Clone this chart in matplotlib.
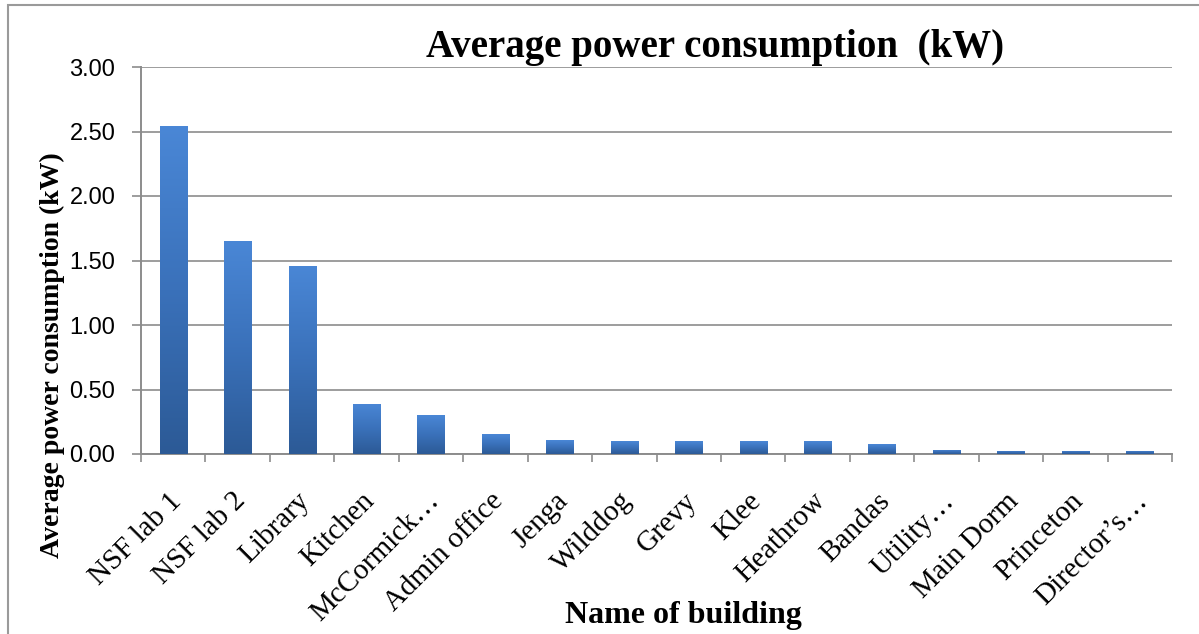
import numpy as np
import matplotlib
matplotlib.use("Agg")
import matplotlib.pyplot as plt
import matplotlib.transforms as mtransforms
from matplotlib.patches import Rectangle

buildings = ["NSF lab 1", "NSF lab 2", "Library", "Kitchen", "McCormick\u2026",
             "Admin office", "Jenga", "Wilddog", "Grevy", "Klee", "Heathrow",
             "Bandas", "Utility\u2026", "Main Dorm", "Princeton", "Director\u2019s\u2026"]
power_kw = [2.54, 1.65, 1.46, 0.39, 0.30, 0.155, 0.105, 0.097, 0.097, 0.097,
            0.097, 0.074, 0.034, 0.027, 0.027, 0.027]
yticks = [0.0, 0.5, 1.0, 1.5, 2.0, 2.5, 3.0]


def main():
    fig = plt.figure(figsize=(11.99, 6.34), dpi=100)
    ax = fig.add_axes([141 / 1199, 1 - 454 / 634, 1031 / 1199, 387 / 634])

    x = np.arange(len(buildings))
    bars = ax.bar(x, power_kw, width=0.42, color="#3a6fb5", zorder=3)

    # vertical gradient on each bar, lighter at top like the Excel style
    grad = np.linspace(0, 1, 256).reshape(-1, 1)
    cmap = matplotlib.colors.LinearSegmentedColormap.from_list(
        "bluegrad", ["#2c5a96", "#3a71ba", "#4a87d6"])
    for b in bars:
        bx, by = b.get_x(), b.get_y()
        w, h = b.get_width(), b.get_height()
        im = ax.imshow(grad, extent=[bx, bx + w, by, by + h], origin="lower",
                       cmap=cmap, aspect="auto", zorder=3)
        im.set_clip_path(b)

    ax.set_xlim(-0.5, len(buildings) - 0.5)
    ax.set_ylim(0, 3.0)
    ax.set_yticks(yticks)
    ax.set_yticklabels(["%.2f" % v for v in yticks], fontsize=17,
                       family="Liberation Sans")
    ax.yaxis.grid(True, color="#8c8c8c", linewidth=1.2, zorder=0)
    ax.set_axisbelow(True)

    ax.set_xticks(x)
    ax.set_xticklabels(buildings, rotation=45, ha="right", va="center",
                       rotation_mode="anchor", fontsize=21,
                       family="Liberation Serif")
    ax.tick_params(axis="x", length=0, pad=31)
    shift = mtransforms.ScaledTranslation(4 / 100, 0, fig.dpi_scale_trans)
    for lab in ax.get_xticklabels():
        lab.set_transform(lab.get_transform() + shift)
    ax.set_xticks(np.arange(-0.5, len(buildings)), minor=True)
    ax.tick_params(axis="x", which="minor", length=6, color="#8c8c8c",
                   width=1.2)
    ax.tick_params(axis="y", length=6.5, color="#8c8c8c", width=1.2, pad=12)

    for side in ["top", "right"]:
        ax.spines[side].set_visible(False)
    for side in ["left", "bottom"]:
        ax.spines[side].set_color("#8c8c8c")
        ax.spines[side].set_linewidth(1.4)

    fig.text(52 / 1199, 1 - 355 / 634, "Average power consumption (kW)",
             rotation=90, fontsize=20, fontweight="bold",
             family="Liberation Serif", ha="center", va="center")
    fig.text(683 / 1199, 1 - 616 / 634, "Name of building", fontsize=23,
             fontweight="bold", family="Liberation Serif", ha="center",
             va="center")
    fig.text(715 / 1199, 1 - 47 / 634, "Average power consumption  (kW)",
             fontsize=28, fontweight="bold", family="Liberation Serif",
             ha="center", va="center")

    # chart border (top and left edges visible in the crop)
    fig.patches.append(Rectangle((8 / 1199, -0.1), 1.2, 1.1 - 5 / 634,
                                 transform=fig.transFigure, fill=False,
                                 edgecolor="#9a9a9a", linewidth=1.5))

    fig.savefig("out.png", dpi=100)


if __name__ == '__main__':
    main()
